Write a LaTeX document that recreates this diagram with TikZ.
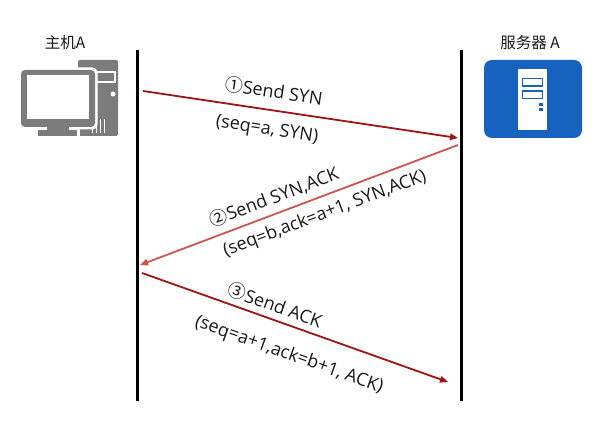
\documentclass[tikz,border=0pt]{standalone}
\usepackage{fontspec}
\setmainfont{Open Sans}
\newfontfamily\cjk{Noto Sans CJK SC}
\usetikzlibrary{arrows.meta}
\definecolor{iconGray}{RGB}{124,124,124}
\definecolor{srvBlue}{RGB}{22,98,190}
\definecolor{arrDark}{RGB}{160,20,20}
\definecolor{arrLight}{RGB}{205,85,80}
\definecolor{txt}{RGB}{25,25,25}
\begin{document}
\begin{tikzpicture}[x=1pt,y=-1pt,
  lifeline/.style={line width=2.4pt, black},
  msg/.style={line width=1.8pt, -{Triangle[length=8pt,width=6.5pt]}},
  lbl/.style={font=\fontsize{18}{21}\selectfont, text=txt, inner sep=0pt},
  ttl/.style={font=\cjk\fontsize{15.5}{17}\selectfont, text=txt, inner sep=0pt},
  whiteline/.style={white, line width=1.4pt}]
\useasboundingbox (0,0) rectangle (602,427);
\fill[white] (0,0) rectangle (602,427);

% titles
\node[ttl] (hostlabel) at (65,43) {主机A};
\node[ttl] (serverlabel) at (530,43) {服务器 A};

% computer icon
\fill[iconGray, rounded corners=2pt] (78,60) rectangle (118,136);
\draw[whiteline] (96.5,72) rectangle (115,82);
\fill[white] (113,94) circle (2.5);
\foreach \x/\y in {92.5/124,96.5/121,100.5/119,104.5/119} \draw[whiteline] (\x,\y) -- (\x,133);
\fill[white, rounded corners=5pt] (18.5,67.5) rectangle (97.5,129.5);
\fill[white] (35.5,127) rectangle (79.5,138.5);
\fill[iconGray, rounded corners=4pt] (21,70) rectangle (95,127);
\fill[white] (27,75) rectangle (89,119);
\fill[iconGray] (47,126) rectangle (69,131);
\fill[iconGray] (38,130) rectangle (77,136);

% server icon
\fill[srvBlue, rounded corners=8pt] (484,60) rectangle (582,138);
\fill[white] (518,69) rectangle (547,130);
\draw[srvBlue, line width=1.8pt] (522.5,78.5) rectangle (542.5,86);
\draw[srvBlue, line width=1.8pt] (522.5,91) rectangle (542.5,98.5);
\fill[srvBlue] (539,103.5) rectangle (543,106.5);
\fill[srvBlue] (539,108.5) rectangle (543,111.5);

% lifelines
\coordinate (Ltop) at (137.5,50);
\coordinate (Lbot) at (137.5,401);
\coordinate (Rtop) at (461.5,50);
\coordinate (Rbot) at (461.5,401);
\draw[lifeline] (Ltop) -- (Lbot);
\draw[lifeline] (Rtop) -- (Rbot);

% messages
\coordinate (a1s) at (143,91);
\coordinate (a1e) at (458,138);
\coordinate (a2s) at (458,145);
\coordinate (a2e) at (140,265);
\coordinate (a3s) at (142,273);
\coordinate (a3e) at (448,382);
\draw[msg, arrDark] (a1s) -- (a1e);
\draw[msg, arrLight] (a2s) -- (a2e);
\draw[msg, arrDark] (a3s) -- (a3e);

% labels
\node[lbl, rotate=-8.5] (l1a) at (274,91) {{\cjk ①}Send SYN};
\node[lbl, rotate=-8.5] (l1b) at (267,130) {(seq=a, SYN)};
\node[lbl, rotate=20.7] (l2a) at (274,197) {{\cjk ②}Send SYN,ACK};
\node[lbl, rotate=20.7] (l2b) at (325,214) {(seq=b,ack=a+1, SYN,ACK)};
\node[lbl, rotate=-19.6] (l3a) at (275,305) {{\cjk ③}Send ACK};
\node[lbl, rotate=-19.6] (l3b) at (289,355) {(seq=a+1,ack=b+1, ACK)};
\end{tikzpicture}
\end{document}
